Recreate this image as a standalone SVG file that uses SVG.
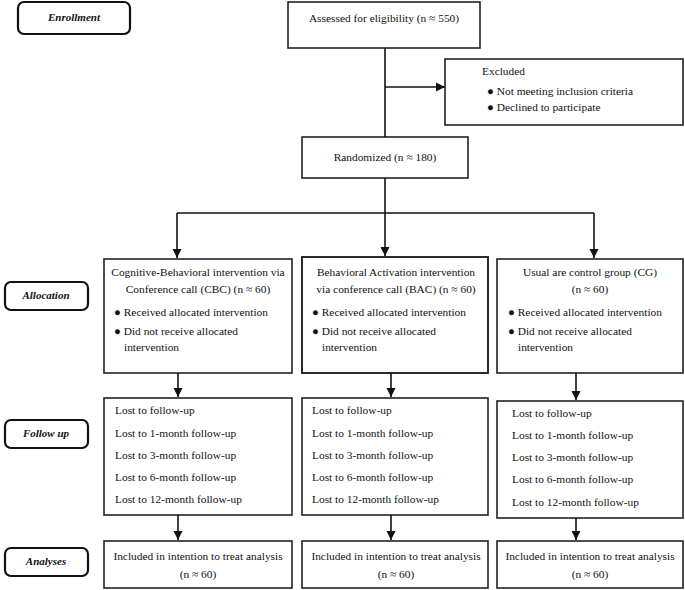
<svg xmlns="http://www.w3.org/2000/svg" width="685" height="590" viewBox="0 0 685 590">
<defs>
<marker id="ah" markerWidth="10" markerHeight="10" refX="9" refY="5" orient="auto" markerUnits="userSpaceOnUse">
<path d="M0,0.5 L9,5 L0,9.5 Z" fill="#111"/>
</marker>
<style>
.box{fill:#fff;stroke:#222;stroke-width:1.6}
.lbl{fill:#fff;stroke:#111;stroke-width:2.2}
.t{font-family:"Liberation Serif","Times New Roman",serif;font-size:11.4px;fill:#111}
.m{text-anchor:middle}
.li{font-family:"Liberation Serif","Times New Roman",serif;font-size:11px;font-weight:bold;font-style:italic;fill:#111;text-anchor:middle}
.c{fill:none;stroke:#111;stroke-width:1.6}
</style>
</defs>
<rect width="685" height="590" fill="#fff"/>

<g id="label-enrollment"><rect class="lbl" x="18" y="2" width="112" height="32" rx="6"/><text class="li" x="74" y="21">Enrollment</text></g>
<g id="label-allocation"><rect class="lbl" x="5" y="282" width="83" height="28" rx="6"/><text class="li" x="46" y="299">Allocation</text></g>
<g id="label-followup"><rect class="lbl" x="5" y="420" width="83" height="28" rx="6"/><text class="li" x="46" y="437">Follow up</text></g>
<g id="label-analyses"><rect class="lbl" x="5" y="548" width="83" height="28" rx="6"/><text class="li" x="46" y="565">Analyses</text></g>

<g id="assessed"><rect class="box" x="288" y="2" width="192" height="46"/><text class="t m" x="384" y="22">Assessed for eligibility (n ≈ 550)</text></g>

<g id="excluded"><rect class="box" x="445" y="59" width="238" height="66"/>
<text class="t" x="482" y="75">Excluded</text>
<text class="t" x="487" y="95">● Not meeting inclusion criteria</text>
<text class="t" x="487" y="111">● Declined to participate</text></g>

<g id="randomized"><rect class="box" x="302" y="137" width="166" height="41"/><text class="t m" x="385" y="161">Randomized (n ≈ 180)</text></g>

<g id="alloc-cbc"><rect class="box" x="104" y="259" width="188" height="114"/>
<text class="t m" x="198" y="276">Cognitive-Behavioral intervention via</text>
<text class="t m" x="198" y="293">Conference call (CBC) (n ≈ 60)</text>
<text class="t" x="114" y="316">● Received allocated intervention</text>
<text class="t" x="114" y="335">● Did not receive allocated</text>
<text class="t" x="124" y="351">intervention</text></g>

<g id="alloc-bac"><rect class="box" x="302" y="257" width="186" height="116" style="stroke-width:1.9"/>
<text class="t m" x="396" y="276">Behavioral Activation intervention</text>
<text class="t m" x="396" y="293">via conference call (BAC) (n ≈ 60)</text>
<text class="t" x="312" y="316">● Received allocated intervention</text>
<text class="t" x="312" y="335">● Did not receive allocated</text>
<text class="t" x="322" y="351">intervention</text></g>

<g id="alloc-cg"><rect class="box" x="497" y="259" width="186" height="114"/>
<text class="t m" x="590" y="276">Usual are control group (CG)</text>
<text class="t m" x="590" y="293">(n ≈ 60)</text>
<text class="t" x="508" y="316">● Received allocated intervention</text>
<text class="t" x="508" y="335">● Did not receive allocated</text>
<text class="t" x="518" y="351">intervention</text></g>

<g id="follow-cbc"><rect class="box" x="104" y="398" width="188" height="117"/>
<text class="t" x="115" y="414">Lost to follow-up</text>
<text class="t" x="115" y="437">Lost to 1-month follow-up</text>
<text class="t" x="115" y="459">Lost to 3-month follow-up</text>
<text class="t" x="115" y="481">Lost to 6-month follow-up</text>
<text class="t" x="115" y="503">Lost to 12-month follow-up</text></g>

<g id="follow-bac"><rect class="box" x="302" y="398" width="186" height="117"/>
<text class="t" x="312" y="414">Lost to follow-up</text>
<text class="t" x="312" y="437">Lost to 1-month follow-up</text>
<text class="t" x="312" y="459">Lost to 3-month follow-up</text>
<text class="t" x="312" y="481">Lost to 6-month follow-up</text>
<text class="t" x="312" y="503">Lost to 12-month follow-up</text></g>

<g id="follow-cg"><rect class="box" x="497" y="401" width="186" height="117"/>
<text class="t" x="512" y="417">Lost to follow-up</text>
<text class="t" x="512" y="439">Lost to 1-month follow-up</text>
<text class="t" x="512" y="461">Lost to 3-month follow-up</text>
<text class="t" x="512" y="483">Lost to 6-month follow-up</text>
<text class="t" x="512" y="506">Lost to 12-month follow-up</text></g>

<g id="analysis-cbc"><rect class="box" x="104" y="541" width="188" height="47"/>
<text class="t m" x="198" y="560">Included in intention to treat analysis</text>
<text class="t m" x="198" y="578">(n ≈ 60)</text></g>
<g id="analysis-bac"><rect class="box" x="302" y="541" width="186" height="47"/>
<text class="t m" x="396" y="560">Included in intention to treat analysis</text>
<text class="t m" x="396" y="578">(n ≈ 60)</text></g>
<g id="analysis-cg"><rect class="box" x="497" y="541" width="186" height="47"/>
<text class="t m" x="590" y="560">Included in intention to treat analysis</text>
<text class="t m" x="590" y="578">(n ≈ 60)</text></g>

<g id="connectors">
<path class="c" d="M385,48 V137"/>
<path class="c" d="M385,87 H445" marker-end="url(#ah)"/>
<path class="c" d="M385,178 V213"/>
<path class="c" d="M177,213 H594"/>
<path class="c" d="M177,213 V258" marker-end="url(#ah)"/>
<path class="c" d="M385,213 V256" marker-end="url(#ah)"/>
<path class="c" d="M594,213 V258" marker-end="url(#ah)"/>
<path class="c" d="M178,373 V397" marker-end="url(#ah)"/>
<path class="c" d="M391,373 V397" marker-end="url(#ah)"/>
<path class="c" d="M576,373 V400" marker-end="url(#ah)"/>
<path class="c" d="M178,515 V540" marker-end="url(#ah)"/>
<path class="c" d="M391,515 V540" marker-end="url(#ah)"/>
<path class="c" d="M576,518 V540" marker-end="url(#ah)"/>
</g>
</svg>
